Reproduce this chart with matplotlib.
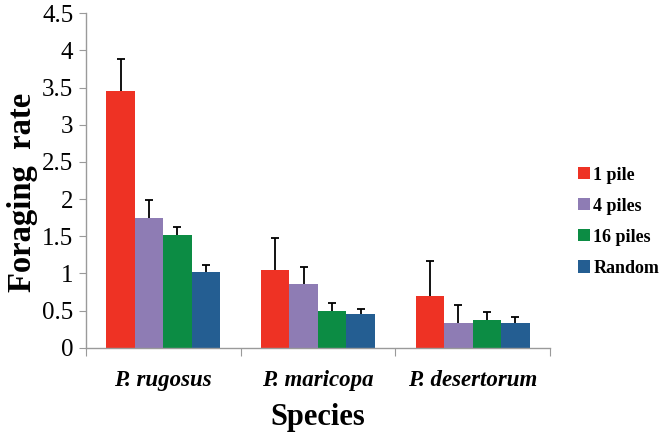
import matplotlib.pyplot as plt
import numpy as np

species = ['P. rugosus', 'P. maricopa', 'P. desertorum']
treatments = ['1 pile', '4 piles', '16 piles', 'Random']
colors = ['#EE3224', '#8E7CB4', '#0C8C44', '#245E92']

# mean foraging rate per treatment (rows) and species (columns)
means = [
    [3.45, 1.04, 0.70],
    [1.74, 0.86, 0.33],
    [1.51, 0.49, 0.37],
    [1.02, 0.45, 0.33],
]
# upper error bar lengths
errors = [
    [0.44, 0.44, 0.47],
    [0.25, 0.23, 0.25],
    [0.11, 0.11, 0.11],
    [0.09, 0.07, 0.09],
]

plt.rcParams['font.family'] = 'serif'
plt.rcParams['font.serif'] = ['Liberation Serif', 'DejaVu Serif']

fig = plt.figure(figsize=(6.61, 4.38), dpi=100)
ax = fig.add_axes([0.130, 0.206, 0.702, 0.764])

x = np.arange(len(species))
width = 0.184
for i, (name, col) in enumerate(zip(treatments, colors)):
    pos = x + (i - 1.5) * width
    ax.bar(pos, means[i], width, color=col, label=name, zorder=2)
    _, caps, _ = ax.errorbar(pos, means[i],
                             yerr=[np.zeros(len(species)), errors[i]],
                             fmt='none', ecolor='black', elinewidth=1.3,
                             capsize=3.2, capthick=1.3, zorder=3)
    caps[0].set_visible(False)

ax.set_xlim(-0.5, 2.5)
ax.set_ylim(0, 4.5)
ax.set_yticks(np.arange(0, 4.51, 0.5))
ax.set_yticklabels(['0', '0.5', '1', '1.5', '2', '2.5', '3', '3.5', '4', '4.5'])
ax.tick_params(axis='y', labelsize=18, length=5, color='#9a9a9a', pad=4)

# ticks on category boundaries, labels at centres
ax.set_xticks([-0.5, 0.5, 1.5, 2.5])
ax.set_xticklabels([])
ax.set_xticks(x, minor=True)
ax.set_xticklabels(species, minor=True, fontsize=16.5, fontweight='bold',
                   fontstyle='italic')
ax.tick_params(axis='x', which='major', length=6, color='#9a9a9a')
ax.tick_params(axis='x', which='minor', length=0, pad=16)

for s in ['top', 'right']:
    ax.spines[s].set_visible(False)
for s in ['left', 'bottom']:
    ax.spines[s].set_color('#9a9a9a')
    ax.spines[s].set_linewidth(1.0)

ax.set_ylabel('Foraging  rate', fontsize=23.5, fontweight='bold')
ax.yaxis.set_label_coords(-0.104, 0.465)
ax.set_xlabel('Species', fontsize=22, fontweight='bold', labelpad=9)

ax.legend(loc='upper left', bbox_to_anchor=(1.025, 0.59), frameon=False,
          prop={'size': 13, 'weight': 'bold'}, handlelength=0.65,
          handleheight=0.65, handletextpad=0.2, labelspacing=0.78)

fig.savefig('out.png', dpi=100)
